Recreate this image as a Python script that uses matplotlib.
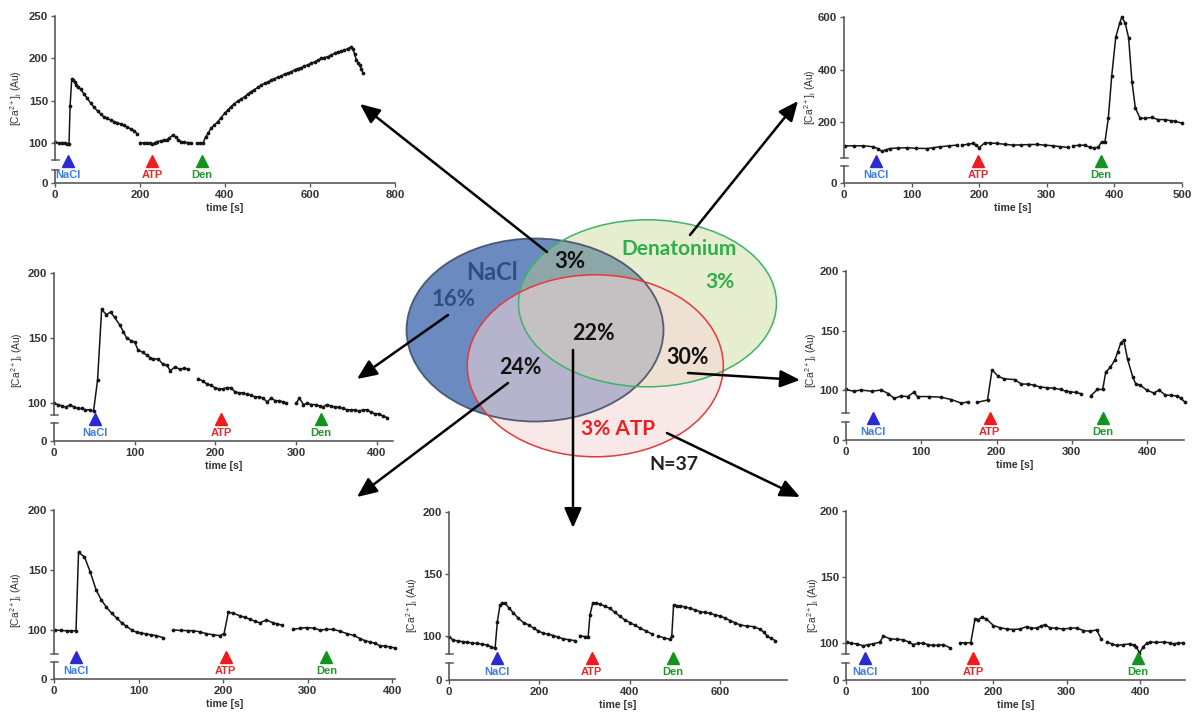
import matplotlib
matplotlib.use('Agg')
import matplotlib.pyplot as plt
from matplotlib.patches import Ellipse, FancyArrowPatch
from matplotlib.transforms import blended_transform_factory

plt.rcParams['mathtext.fontset'] = 'custom'
plt.rcParams['mathtext.rm'] = 'Liberation Sans'
plt.rcParams['font.family'] = ['Liberation Sans', 'DejaVu Sans']

# ---------------- data ----------------
stim_names = ['NaCl', 'ATP', 'Den']
stim_marker_colors = ['#2b2bd4', '#ee1c1c', '#14921e']
stim_text_colors = ['#3c7fe0', '#e52a2a', '#1f9a2a']

# Panel A (top-left)
a_t1 = [1, 9, 17, 24, 29, 33, 35.5, 39.4, 42, 46, 50, 55, 60.5, 68, 76, 84, 92, 100, 107.5, 115, 123, 131, 138.7, 146, 154.5, 162, 170, 178, 186, 194]
a_v1 = [101, 100, 100.6, 100, 99, 99, 143.8, 175.6, 174, 172.5, 169, 166, 163.4, 158, 152.8, 147, 142.2, 138, 134.3, 131, 129.2, 127, 125.3, 124, 122.5, 121, 118.6, 117, 114.7, 110.4]
a_t2 = [201, 209, 217, 223, 229, 235, 241, 249, 257, 263, 269, 277, 285, 290, 296, 304, 312, 321]
a_v2 = [100.6, 100, 100.6, 99.5, 98.6, 100.5, 101.8, 102.5, 103.7, 104, 105.7, 109.6, 106.9, 104, 101.8, 100.8, 100.6, 99.9]
a_t3 = [334, 341, 348, 355, 361, 367, 375, 383, 391, 399, 407, 414, 422, 430, 438, 446, 454, 461, 469, 477,
        485, 493, 501, 509, 516, 524, 532, 540, 548, 556, 564, 571, 579, 587, 595, 603, 611, 619, 627, 634,
        642, 650, 658, 666, 674, 681, 689, 697, 701, 705, 709, 713, 717, 721, 725]
a_v3 = [99.9, 100, 99.9, 107.7, 112, 117.5, 121, 125.3, 130, 135.1, 139, 143, 146.5, 149.6, 152, 154.7, 158, 160.6, 163, 165.7,
        168.5, 170.4, 172, 174.3, 176, 177.5, 179, 181.4, 182.5, 184.1, 186.5, 188, 189, 190.8, 192.5, 194, 196, 197.9, 200, 201,
        202, 203.8, 206, 207.7, 208.5, 209.7, 211.5, 213.6, 211.6, 205, 197.9, 195, 192, 187, 182.2]
a_stim = [31, 228, 346]

# Panel B (top-right)
b_t1 = [1.5, 15, 28.6, 43.4, 50, 55.7, 62, 68, 80, 92.7, 107, 122.3, 132, 142, 155, 166.7]
b_v1 = [110.5, 110, 110.5, 106.7, 100, 90, 95, 100, 102, 103, 101, 100, 103, 106.7, 110, 113]
b_t2 = [174, 183, 191, 196, 200, 208.4, 216, 225.6, 238, 250, 262, 273, 284.8, 297, 309.5, 320, 331.6]
b_v2 = [113, 116, 119.6, 112, 103, 122, 121, 119.6, 116, 113, 114, 115, 115.6, 113, 110.5, 107, 104]
b_t3 = [339, 347, 356, 364, 370, 376, 381, 386, 391, 396, 402, 408, 411, 416, 421, 426, 431, 438, 446, 455, 465, 475, 483, 490, 500]
b_v3 = [110.5, 112, 113, 104, 103, 104, 125.5, 125.5, 215, 375, 523, 578, 600, 577, 521, 354, 254, 215, 215, 218, 210, 210, 206, 203, 197]
b_stim = [47, 198, 380]

# Panel C (middle-left)
c_t1 = [0, 5, 10, 15, 20, 25, 30, 35, 39, 44, 49, 54, 59, 65, 70, 75, 81.5, 86, 90, 96, 100, 104, 110, 115, 119, 123, 129, 135, 140, 144, 150, 156, 161, 166]
c_v1 = [100, 99, 98, 97, 99, 97, 96, 96, 95, 95, 94, 118, 172, 168, 170, 166, 160, 155, 150, 148, 147, 141, 139, 137, 135, 134, 134, 130, 129, 125, 128, 126, 127, 126]
c_t2 = [179, 184, 189, 194, 199, 204, 209, 214, 219, 224, 229, 234, 239, 244, 249, 254, 259, 264, 269, 274, 279, 284, 288]
c_v2 = [119, 117, 115, 114, 112, 111, 111, 112, 112, 109, 108, 108, 107, 106, 105, 105, 104, 101, 104, 102, 102, 101, 100]
c_t3 = [300, 304, 309, 314, 319, 324, 329, 333, 338, 343, 348, 353, 358, 363, 368, 373, 378, 383, 388, 393, 398, 403, 408, 413]
c_v3 = [100, 104, 99, 100, 99, 99, 98, 97, 99, 98, 97, 97, 96, 95, 95, 95, 94, 95, 95, 93, 92, 92, 90, 89]
c_stim = [51, 207, 331]

# Panel D (middle-right)
d_t1 = [0, 10, 20, 34, 47, 56, 64, 73, 82, 90, 95, 110, 126, 140, 153, 162]
d_v1 = [100.5, 99, 100, 99, 100, 97, 93, 95, 94.5, 98, 94.5, 94.5, 94, 92, 89, 90]
d_t2 = [174, 188, 194, 202, 210, 224, 233, 242, 250, 258, 267, 276, 285, 292, 298, 305, 312]
d_v2 = [89.6, 91.6, 117, 111.6, 109.4, 108.8, 105, 105, 104, 102.5, 102, 101.5, 100.5, 99, 98.5, 98, 97]
d_t3 = [325, 334, 341, 345, 351, 357, 361, 365, 369, 374, 381, 385, 391, 400, 409, 416, 424, 432, 440, 445, 450]
d_v3 = [95, 100.5, 100.5, 115, 119, 125, 132, 139.6, 142, 126, 110.8, 105, 104, 99.7, 97.5, 100, 95.8, 95.5, 95, 93, 90]
d_stim = [36, 191, 341]

# Panel E (bottom-left)
e_t1 = [0.7, 8, 15, 20, 26, 29, 36, 43, 50, 56, 62, 68, 74, 80, 85.6, 92, 97.5, 103, 109, 115, 121, 129]
e_v1 = [100, 99.6, 99.4, 99.4, 99.4, 164.6, 161, 148, 133, 125, 119, 114, 110, 106, 103, 100, 98, 97.5, 96.7, 96, 95.3, 93.6]
e_t2 = [141, 150, 158, 164.5, 172, 180, 188, 196, 201, 206, 212, 220, 226, 231.6, 237, 243, 251, 259, 264, 270]
e_v2 = [100, 99.6, 99.5, 99.4, 98.5, 97, 96, 95.3, 97, 114.7, 114, 111.7, 110.5, 108.9, 107.5, 106, 108.3, 106, 105, 104]
e_t3 = [283, 291, 299, 307, 314.5, 322, 330, 338, 346, 354, 362, 368, 373.6, 379, 385, 391, 397, 403]
e_v3 = [100.5, 101.5, 102, 101.5, 100, 100.5, 100.5, 99, 97, 95.5, 92.8, 91, 90, 89, 87, 86.5, 86, 85]
e_stim = [26, 203, 322]

# Panel F (bottom-middle)
f_t1 = [0.7, 9, 20, 30, 40, 50, 61, 72, 83, 92, 102, 107, 113, 118, 124, 133, 142, 153, 165, 176, 187, 198, 209, 220, 231, 242, 253, 266, 279]
f_v1 = [99.4, 96.7, 96, 95.5, 95, 94.5, 94, 93.5, 92.8, 91.5, 90.1, 111.6, 125, 126.5, 126.3, 122.5, 118.8, 114.5, 110.8, 109, 106.3, 104, 102.2, 101.5, 100.4, 99, 97.7, 97, 96.3]
f_t2 = [290, 300, 308, 312, 318, 326, 334, 345, 356, 367, 378, 389, 400.7, 412, 423, 436, 449]
f_v2 = [100.4, 99.5, 99.6, 117, 126.3, 126.5, 125.8, 124, 122.3, 119, 116, 113, 110.8, 108.5, 106.3, 104, 101.7]
f_t3 = [463.5, 476, 489, 493, 497, 504, 511.5, 522, 533.6, 545, 556, 567, 578, 589, 600, 611, 622.6, 634, 645, 660, 674, 689, 697, 704, 713, 722]
f_v3 = [100, 98.5, 97.4, 100, 125, 124.5, 124.2, 123.5, 122.3, 121, 119.6, 119, 118.3, 117, 116.1, 114.5, 112.4, 110.5, 108.9, 108, 107.6, 105.4, 103, 100, 98, 96.3]
f_stim = [107, 316, 495]

# Panel G (bottom-right)
g_t1 = [0.9, 7, 14.5, 23.6, 30, 37, 46, 50.8, 59.9, 69, 78, 85, 91.6, 98, 105, 112, 118.8, 125, 132.4, 141.5]
g_v1 = [100.4, 99.5, 99.1, 97.6, 98.5, 99.1, 100.4, 105, 103, 102.5, 102.2, 100.5, 98.6, 99.5, 99.6, 98.5, 97.9, 98, 98.6, 96]
g_t2 = [155, 162, 169.6, 175.5, 180, 184.5, 191, 200.5, 209, 218.6, 227, 236.7, 245.8, 252, 259.4, 265, 270.7, 277.5, 286, 295.6, 305, 313.8, 322.8, 331.9, 340.9, 346.8]
g_v2 = [99.9, 99.9, 99.9, 118.1, 117.5, 119.4, 118, 113, 111.5, 110.4, 110, 110.4, 112.2, 111, 111.2, 112.5, 113.7, 111.2, 111, 110.4, 111, 111.2, 109.2, 108.7, 109.7, 103]
g_t3 = [355.4, 362, 368, 377, 386, 391, 395, 399, 404, 409, 413.8, 422, 432, 440, 445.5, 452, 458]
g_v3 = [100.4, 99, 97.9, 98.5, 99.1, 98, 97, 92, 96.8, 99.5, 100.4, 100.2, 100.4, 100, 99.1, 99.7, 99.9]
g_stim = [26, 173, 397]

# Venn labels
venn_labels = ['NaCl', '16%', '3%', 'Denatonium', '3%', '22%', '24%', '30%', '3% ATP', 'N=37']

# ---------------- figure ----------------
W, H = 1192, 715
fig = plt.figure(figsize=(W / 100, H / 100), dpi=100)
fig.patch.set_facecolor('white')

AX_COL = '#5a5a5a'
TXT_COL = '#333333'
TICK_FONT = dict(family='Liberation Sans', weight='bold', size=8.2)


def fbox(x0, x1, ytop, ybot):
    return [x0 / W, 1 - ybot / H, (x1 - x0) / W, (ybot - ytop) / H]


def panel(px, xlim, xticks, ylim, yticks, segs, stim, ylab_px):
    x0, x1, ytop, yub, ylt, y0 = px
    axu = fig.add_axes(fbox(x0, x1, ytop, yub))
    axl = fig.add_axes(fbox(x0, x1, ylt, y0))
    for ax in (axu, axl):
        ax.set_xlim(*xlim)
        ax.patch.set_alpha(0)
        for s in ('top', 'right'):
            ax.spines[s].set_visible(False)
        ax.spines['left'].set_color(AX_COL)
        ax.spines['left'].set_linewidth(1.2)
        ax.tick_params(axis='both', direction='out', length=3, width=1, color=AX_COL,
                       labelcolor=TXT_COL, pad=2)
    axu.spines['bottom'].set_visible(False)
    axu.set_xticks([])
    axu.set_ylim(*ylim)
    axu.set_yticks(yticks)
    axl.set_ylim(0, 1)
    axl.set_yticks([0])
    axl.spines['bottom'].set_color(AX_COL)
    axl.spines['bottom'].set_linewidth(1.2)
    axl.set_xticks(xticks)
    for ax in (axu, axl):
        for lab in ax.get_xticklabels() + ax.get_yticklabels():
            lab.set_fontproperties(matplotlib.font_manager.FontProperties(**TICK_FONT))
    axl.set_xlabel('time [s]', fontsize=7.6, fontweight='bold', color=TXT_COL, labelpad=2)
    # break caps
    cap = 3.5 / (x1 - x0)
    axu.plot([-cap, cap], [0, 0], transform=axu.transAxes, color=AX_COL, lw=1.1, clip_on=False)
    axl.plot([-cap, cap], [1, 1], transform=axl.transAxes, color=AX_COL, lw=1.1, clip_on=False)
    # data
    for t, v in segs:
        axu.plot(t, v, color='#151515', lw=1.1, marker='o', ms=1.7, mec='#151515', mfc='#151515', clip_on=False)
    # stimulus markers
    tr = blended_transform_factory(axu.transData, fig.transFigure)
    for s, name, mc, tc in zip(stim, stim_names, stim_marker_colors, stim_text_colors):
        axu.plot([s], [1 - (y0 - 22) / H], marker='^', ms=9, color=mc, mec=mc,
                 transform=tr, clip_on=False)
        axu.text(s, 1 - (y0 - 8) / H, name, transform=tr, ha='center', va='center',
                 color=tc, fontsize=8, fontweight='bold')
    # y label
    fig.text(ylab_px[0] / W, 1 - ylab_px[1] / H, r'[Ca$^{\mathregular{2+}}$]$_{\mathregular{i}}$ (Au)',
             rotation=90, ha='center', va='center', fontsize=7.4, color=TXT_COL)


panel((55, 395, 16, 160, 170, 183), (0, 800), [0, 200, 400, 600, 800], (80, 250), [100, 150, 200, 250],
      [(a_t1, a_v1), (a_t2, a_v2), (a_t3, a_v3)], a_stim, (16, 98))
panel((844, 1182, 17, 158, 166, 183), (0, 500), [0, 100, 200, 300, 400, 500], (64, 600), [200, 400, 600],
      [(b_t1, b_v1), (b_t2, b_v2), (b_t3, b_v3)], b_stim, (810, 97))
panel((54, 393, 273, 415, 423, 441), (0, 420), [0, 100, 200, 300, 400], (91, 200), [100, 150, 200],
      [(c_t1, c_v1), (c_t2, c_v2), (c_t3, c_v3)], c_stim, (17, 360))
panel((846, 1184, 271, 413, 422, 440), (0, 449), [0, 100, 200, 300, 400], (80.7, 200), [100, 150, 200],
      [(d_t1, d_v1), (d_t2, d_v2), (d_t3, d_v3)], d_stim, (811, 360))
panel((54, 395, 510, 654, 662, 679), (0, 403), [0, 100, 200, 300, 400], (80, 200), [100, 150, 200],
      [(e_t1, e_v1), (e_t2, e_v2), (e_t3, e_v3)], e_stim, (16, 600))
panel((449, 787, 512, 654, 663, 680), (0, 748), [0, 200, 400, 600], (85.5, 200), [100, 150, 200],
      [(f_t1, f_v1), (f_t2, f_v2), (f_t3, f_v3)], f_stim, (412, 605))
panel((846, 1185, 511, 654, 663, 680), (0, 461), [0, 100, 200, 300, 400], (91.4, 200), [100, 150, 200],
      [(g_t1, g_v1), (g_t2, g_v2), (g_t3, g_v3)], g_stim, (813, 605))

# ---------------- Venn overlay ----------------
ov = fig.add_axes([0, 0, 1, 1], zorder=10)
ov.set_xlim(0, W)
ov.set_ylim(H, 0)
ov.axis('off')
ov.patch.set_alpha(0)

ov.add_patch(Ellipse((535, 330), 257, 183, facecolor='#6a8ac0', edgecolor='none', alpha=1.0))
ov.add_patch(Ellipse((647.5, 303.3), 258, 167, facecolor='#c4d488', edgecolor='none', alpha=0.4))
ov.add_patch(Ellipse((595.3, 365.8), 256, 182, facecolor='#f5d6d6', edgecolor='none', alpha=0.55))
ov.add_patch(Ellipse((535, 330), 257, 183, facecolor='none', edgecolor='#3a4860', lw=1.3, alpha=0.85))
ov.add_patch(Ellipse((647.5, 303.3), 258, 167, facecolor='none', edgecolor='#3cb46a', lw=1.1))
ov.add_patch(Ellipse((595.3, 365.8), 256, 182, facecolor='none', edgecolor='#e33a3a', lw=1.1))

VF = dict(family=['Lato', 'DejaVu Sans'], weight='bold', ha='center', va='center')
venn_pos = [(492, 273), (454, 300), (570, 262), (679, 249), (720, 282), (593, 334), (520, 368), (688, 357), (618, 429), (674, 465)]
venn_cols = ['#2f4f80', '#2f4f80', '#111111', '#2db04a', '#2db04a', '#111111', '#111111', '#111111', '#e82020', '#222222']
venn_size = [17, 16, 16, 15, 15, 15.5, 15.5, 15.5, 15, 14]
for lab, (x, y), c, s in zip(venn_labels, venn_pos, venn_cols, venn_size):
    ov.text(x, y, lab, color=c, fontsize=s, **VF)

arrows = [((547, 252), (360, 104)), ((690, 235), (798, 101)), ((448, 315), (357, 379)),
          ((688, 373), (800, 380)), ((508, 383), (357, 497)), ((573, 350), (573, 528)),
          ((667, 433), (800, 497))]
for a, b in arrows:
    ov.add_patch(FancyArrowPatch(a, b, arrowstyle='-|>,head_length=0.8,head_width=0.35',
                                 mutation_scale=15, lw=1.8, color='black', shrinkA=0, shrinkB=0))

fig.savefig('out.png', dpi=100, facecolor='white')
